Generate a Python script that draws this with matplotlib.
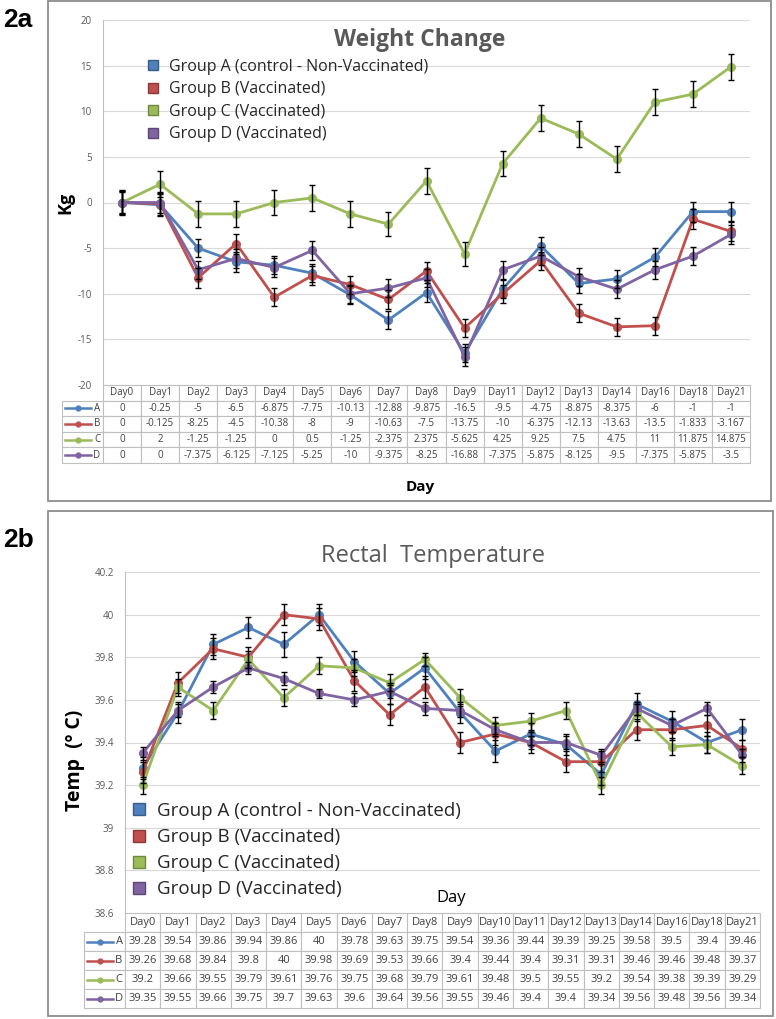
import matplotlib
matplotlib.use('Agg')
import matplotlib.pyplot as plt
from matplotlib.lines import Line2D
from matplotlib.patches import Rectangle

plt.rcParams['font.family'] = ['Open Sans', 'DejaVu Sans']

W, H = 776, 1019

# ---- data: 2a weight change (kg)
days_a = ['Day0', 'Day1', 'Day2', 'Day3', 'Day4', 'Day5', 'Day6', 'Day7', 'Day8', 'Day9',
          'Day11', 'Day12', 'Day13', 'Day14', 'Day16', 'Day18', 'Day21']
wA = [0, -0.25, -5, -6.5, -6.875, -7.75, -10.13, -12.88, -9.875, -16.5, -9.5, -4.75, -8.875, -8.375, -6, -1, -1]
wB = [0, -0.125, -8.25, -4.5, -10.38, -8, -9, -10.63, -7.5, -13.75, -10, -6.375, -12.13, -13.63, -13.5, -1.833, -3.167]
wC = [0, 2, -1.25, -1.25, 0, 0.5, -1.25, -2.375, 2.375, -5.625, 4.25, 9.25, 7.5, 4.75, 11, 11.875, 14.875]
wD = [0, 0, -7.375, -6.125, -7.125, -5.25, -10, -9.375, -8.25, -16.88, -7.375, -5.875, -8.125, -9.5, -7.375, -5.875, -3.5]
# error bars
wA_err = [1.3, 1.2, 1.0, 1.1, 1.0, 1.0, 1.0, 1.0, 1.0, 1.0, 1.0, 1.0, 1.0, 1.0, 1.0, 1.1, 1.1]
wB_err = [1.3, 1.2, 1.1, 1.1, 1.0, 1.0, 1.0, 1.0, 1.0, 1.0, 1.0, 1.0, 1.0, 1.0, 1.0, 1.1, 1.1]
wC_err = [1.4, 1.4, 1.4, 1.4, 1.4, 1.4, 1.4, 1.3, 1.4, 1.3, 1.4, 1.4, 1.4, 1.4, 1.4, 1.4, 1.4]
wD_err = [1.2, 1.2, 1.0, 1.0, 1.0, 1.0, 1.0, 1.0, 1.0, 1.0, 1.0, 1.0, 1.0, 1.0, 1.0, 1.0, 1.0]

# ---- data: 2b rectal temperature (C)
days_b = ['Day0', 'Day1', 'Day2', 'Day3', 'Day4', 'Day5', 'Day6', 'Day7', 'Day8', 'Day9',
          'Day10', 'Day11', 'Day12', 'Day13', 'Day14', 'Day16', 'Day18', 'Day21']
tA = [39.28, 39.54, 39.86, 39.94, 39.86, 40, 39.78, 39.63, 39.75, 39.54, 39.36, 39.44, 39.39, 39.25, 39.58, 39.5, 39.4, 39.46]
tB = [39.26, 39.68, 39.84, 39.8, 40, 39.98, 39.69, 39.53, 39.66, 39.4, 39.44, 39.4, 39.31, 39.31, 39.46, 39.46, 39.48, 39.37]
tC = [39.2, 39.66, 39.55, 39.79, 39.61, 39.76, 39.75, 39.68, 39.79, 39.61, 39.48, 39.5, 39.55, 39.2, 39.54, 39.38, 39.39, 39.29]
tD = [39.35, 39.55, 39.66, 39.75, 39.7, 39.63, 39.6, 39.64, 39.56, 39.55, 39.46, 39.4, 39.4, 39.34, 39.56, 39.48, 39.56, 39.34]
tA_err = [0.05, 0.05, 0.05, 0.05, 0.06, 0.05, 0.05, 0.05, 0.05, 0.05, 0.05, 0.05, 0.05, 0.05, 0.05, 0.05, 0.05, 0.05]
tB_err = [0.05, 0.05, 0.05, 0.05, 0.05, 0.05, 0.05, 0.05, 0.05, 0.05, 0.05, 0.05, 0.05, 0.05, 0.05, 0.05, 0.05, 0.04]
tC_err = [0.04, 0.04, 0.04, 0.04, 0.04, 0.04, 0.04, 0.04, 0.03, 0.04, 0.04, 0.04, 0.04, 0.04, 0.04, 0.04, 0.04, 0.04]
tD_err = [0.03, 0.03, 0.03, 0.03, 0.03, 0.02, 0.03, 0.03, 0.03, 0.03, 0.03, 0.03, 0.03, 0.03, 0.03, 0.03, 0.03, 0.03]

groups = ['A', 'B', 'C', 'D']
legend_labels = ['Group A (control - Non-Vaccinated)', 'Group B (Vaccinated)',
                 'Group C (Vaccinated)', 'Group D (Vaccinated)']
colors = ['#4F81BD', '#C0504D', '#9BBB59', '#8064A2']
edges = ['#385D8A', '#8C3836', '#71893F', '#5C4776']


def axbox(left, top, right, bottom):
    return [left / W, 1 - bottom / H, (right - left) / W, (bottom - top) / H]


def panel(ax, days, series, errs, ylim, yticks, tbl_px, lab_px, tbl_font):
    n = len(days)
    x = list(range(n))
    for vals, err, c in zip(series, errs, colors):
        ax.plot(x, vals, '-o', color=c, lw=2, ms=5.5, zorder=2)
        ax.errorbar(x, vals, yerr=err, fmt='none', ecolor='black', elinewidth=1,
                    capsize=2.5, capthick=1, zorder=3)
    ax.set_xlim(-0.5, n - 0.5)
    ax.set_ylim(*ylim)
    ax.set_yticks(yticks)
    ax.set_yticklabels([f"{v:g}" for v in yticks])
    ax.set_xticks([])
    ax.tick_params(axis='y', length=0, labelsize=7, labelcolor='#595959', pad=8)
    ax.grid(axis='y', color='#d9d9d9', lw=0.8)
    ax.set_axisbelow(True)
    for s in ['top', 'right', 'bottom']:
        ax.spines[s].set_visible(False)
    ax.spines['left'].set_color('#bfbfbf')

    # data table under the axes
    bb = ax.get_position()
    ax_h = bb.height * H
    ax_w = bb.width * W
    th = tbl_px / ax_h
    lw = lab_px / ax_w
    cell_text = [[g] + [f"{v:g}" for v in vals] for g, vals in zip(groups, series)]
    tbl = ax.table(cellText=cell_text, colLabels=[''] + days,
                   colWidths=[lw] + [1 / n] * n, cellLoc='center',
                   bbox=[-lw, -th, 1 + lw, th])
    tbl.auto_set_font_size(False)
    tbl.set_fontsize(tbl_font)
    for (r, c), cell in tbl.get_celld().items():
        cell.set_edgecolor('#bfbfbf')
        cell.set_linewidth(0.8)
        cell.get_text().set_color('#404040')
        if r == 0 and c == 0:
            cell.visible_edges = 'open'
        if c == 0 and r > 0:
            cell.PAD = 0.06
            cell.get_text().set_ha('right')
    # line-with-marker keys in the row label column
    rh = th / 5
    for i, c in enumerate(colors):
        yc = -rh * (i + 1.5)
        x0 = -lw + 0.08 * lw
        x1 = -lw + 0.7 * lw
        ax.plot([x0, x1], [yc, yc], color=c, lw=1.8, transform=ax.transAxes, clip_on=False)
        ax.plot([(x0 + x1) / 2], [yc], 'o', color=c, ms=3.5, transform=ax.transAxes, clip_on=False)


def legend(ax, fx, fy, size, ms, spacing):
    handles = [Line2D([], [], marker='s', ls='none', ms=ms, mfc=c, mec=e, mew=1)
               for c, e in zip(colors, edges)]
    ax.legend(handles, legend_labels, loc='upper left', bbox_to_anchor=(fx / W, 1 - fy / H),
              bbox_transform=ax.figure.transFigure, frameon=False, fontsize=size,
              handlelength=0.8, handletextpad=0.6, labelspacing=spacing, borderpad=0,
              borderaxespad=0, labelcolor='#262626')


fig = plt.figure(figsize=(W / 100, H / 100), dpi=100)

# frames
fig.add_artist(Rectangle((48 / W, 1 - 501 / H), 723 / W, 500 / H, transform=fig.transFigure,
                         fill=False, ec='#8c8c8c', lw=1.3))
fig.add_artist(Rectangle((48 / W, 1 - 1016 / H), 725 / W, 505 / H, transform=fig.transFigure,
                         fill=False, ec='#8c8c8c', lw=1.3))

# ---- 2a
ax1 = fig.add_axes(axbox(103, 20, 750, 385))
panel(ax1, days_a, [wA, wB, wC, wD], [wA_err, wB_err, wC_err, wD_err],
      (-20, 20), [-20, -15, -10, -5, 0, 5, 10, 15, 20], 78, 41, 7)
legend(ax1, 147, 59, 11.5, 7.5, 0.4)
fig.text(420 / W, 1 - 40 / H, 'Weight Change', ha='center', va='center', fontsize=16.5,
         fontweight='bold', color='#595959')
fig.text(65 / W, 1 - 203 / H, 'Kg', ha='center', va='center', rotation=90, fontsize=13,
         fontweight='bold', color='black')
fig.text(420 / W, 1 - 487 / H, 'Day', ha='center', va='center', fontsize=11,
         fontweight='bold', color='black')
fig.text(18 / W, 1 - 20 / H, '2a', ha='center', va='center', fontsize=19,
         fontweight='bold', family='Liberation Sans')

# ---- 2b
ax2 = fig.add_axes(axbox(125, 572, 760, 913))
panel(ax2, days_b, [tA, tB, tC, tD], [tA_err, tB_err, tC_err, tD_err],
      (38.6, 40.2), [38.6, 38.8, 39, 39.2, 39.4, 39.6, 39.8, 40, 40.2], 95, 41, 8)
legend(ax2, 131, 802, 13.5, 8.5, 0.43)
fig.text(433 / W, 1 - 556 / H, 'Rectal  Temperature', ha='center', va='center', fontsize=17,
         color='#595959')
fig.text(75 / W, 1 - 760 / H, 'Temp  (º C)', ha='center', va='center', rotation=90,
         fontsize=14, fontweight='bold', color='black')
fig.text(451 / W, 1 - 898 / H, 'Day', ha='center', va='center', fontsize=12, color='black')
fig.text(18 / W, 1 - 540 / H, '2b', ha='center', va='center', fontsize=19,
         fontweight='bold', family='Liberation Sans')

fig.savefig('out.png', dpi=100)
